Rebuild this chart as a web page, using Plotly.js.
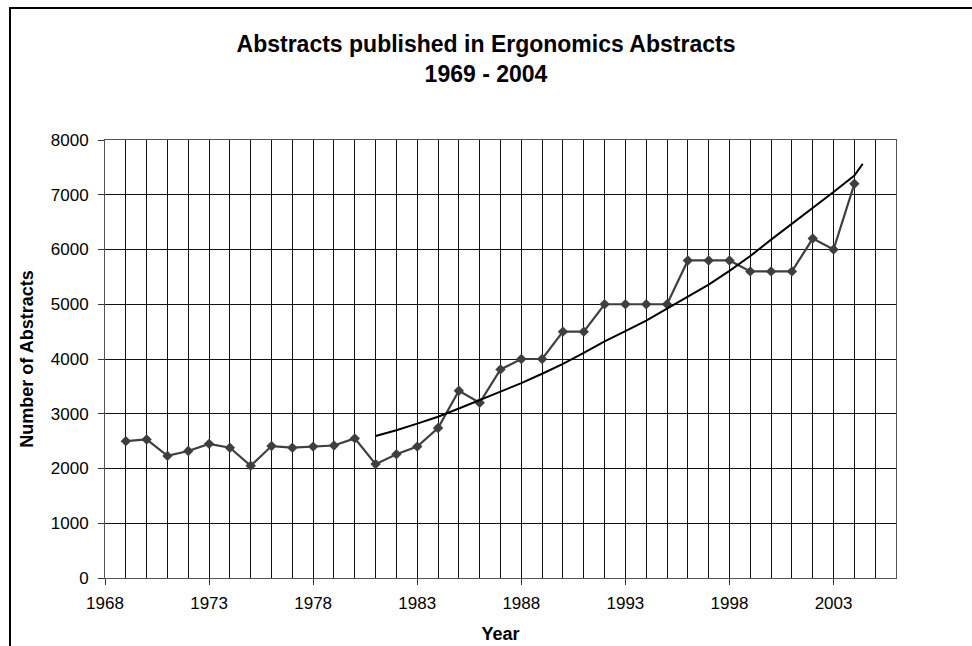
<!DOCTYPE html>
<html>
<head>
<meta charset="utf-8">
<script src="https://cdn.plot.ly/plotly-3.0.1.min.js"></script>
<style>
  html, body { margin: 0; padding: 0; background: #fff; }
  #chart { width: 972px; height: 646px; }
</style>
</head>
<body>
<div id="chart"></div>
<script>
// Abstracts per year
const years = [1969, 1970, 1971, 1972, 1973, 1974, 1975, 1976, 1977, 1978, 1979, 1980,
               1981, 1982, 1983, 1984, 1985, 1986, 1987, 1988, 1989, 1990, 1991, 1992,
               1993, 1994, 1995, 1996, 1997, 1998, 1999, 2000, 2001, 2002, 2003, 2004];
const abstracts = [2500, 2530, 2230, 2320, 2450, 2380, 2050, 2410, 2380, 2400, 2420, 2550,
                   2080, 2260, 2400, 2740, 3420, 3200, 3810, 4000, 4000, 4500, 4500, 5000,
                   5000, 5000, 5000, 5800, 5800, 5800, 5600, 5600, 5600, 6200, 6000, 7200];

// Trend line
const trendYears = [1981, 1982, 1983, 1984, 1985, 1986, 1987, 1988, 1989, 1990, 1991, 1992,
                    1993, 1994, 1995, 1996, 1997, 1998, 1999, 2000, 2001, 2002, 2003, 2004, 2004.4];
const trendValues = [2595, 2700, 2820, 2945, 3095, 3250, 3400, 3560, 3730, 3910, 4110, 4320,
                     4510, 4700, 4920, 5140, 5360, 5610, 5880, 6180, 6470, 6750, 7050, 7350, 7565];

const titleText = "<b>Abstracts published in Ergonomics Abstracts<br>1969 - 2004</b>";
const xTitle = "<b>Year</b>";
const yTitle = "<b>Number of Abstracts</b>";

const FONT = "'Liberation Sans', Arial, sans-serif";

const traces = [
  {
    x: years, y: abstracts, type: "scatter", mode: "lines+markers",
    line: { color: "#3f3f3f", width: 2.2 },
    marker: { symbol: "diamond", size: 8, color: "#3f3f3f" },
    hoverinfo: "x+y", showlegend: false
  },
  {
    x: trendYears, y: trendValues, type: "scatter", mode: "lines",
    line: { color: "#000000", width: 2 },
    hoverinfo: "skip", showlegend: false
  }
];

// Plot area: x 105..896, y 140..578
const L = 105, R = 972 - 896, T = 140, B = 646 - 578;
const pw = 972 - L - R, ph = 646 - T - B;
function px(x) { return (x - L) / pw; }
function py(y) { return (646 - B - y) / ph; }

const layout = {
  width: 972, height: 646,
  margin: { l: L, r: R, t: T, b: B, pad: 0 },
  paper_bgcolor: "#ffffff", plot_bgcolor: "#ffffff",
  font: { family: FONT, color: "#000", size: 17 },
  title: {
    text: titleText,
    font: { family: FONT, size: 23, color: "#000" },
    x: 486 / 972, xref: "container", xanchor: "center",
    y: 1 - 52 / 646, yref: "container", yanchor: "top"
  },
  xaxis: {
    range: [1968, 2006], autorange: false,
    tick0: 1968, dtick: 5, tickmode: "linear",
    ticks: "outside", ticklen: 6, tickcolor: "#333", tickwidth: 1,
    ticklabelstandoff: 4,
    showgrid: true, gridcolor: "#111", gridwidth: 1,
    minor: { dtick: 1, tick0: 1968, showgrid: true, gridcolor: "#111", gridwidth: 1, ticks: "" },
    showline: true, linecolor: "#555", linewidth: 1, mirror: true,
    zeroline: false,
    tickfont: { family: FONT, size: 17, color: "#000" },
    title: { text: xTitle, font: { family: FONT, size: 18, color: "#000" }, standoff: 14 }
  },
  yaxis: {
    range: [0, 8000], autorange: false,
    tick0: 0, dtick: 1000, tickmode: "linear",
    ticks: "outside", ticklen: 6, tickcolor: "#333", tickwidth: 1,
    ticklabelstandoff: 6,
    showgrid: true, gridcolor: "#111", gridwidth: 1,
    showline: true, linecolor: "#555", linewidth: 1, mirror: true,
    zeroline: false,
    tickfont: { family: FONT, size: 17, color: "#000" },
    title: { text: yTitle, font: { family: FONT, size: 18, color: "#000" }, standoff: 12 }
  },
  shapes: [
    {
      type: "rect", xref: "paper", yref: "paper",
      x0: px(10), x1: px(975), y0: py(652), y1: py(8),
      line: { color: "#000", width: 2 }, fillcolor: "rgba(0,0,0,0)", layer: "below"
    }
  ]
};

Plotly.newPlot("chart", traces, layout, { displayModeBar: false, responsive: false });
</script>
</body>
</html>
